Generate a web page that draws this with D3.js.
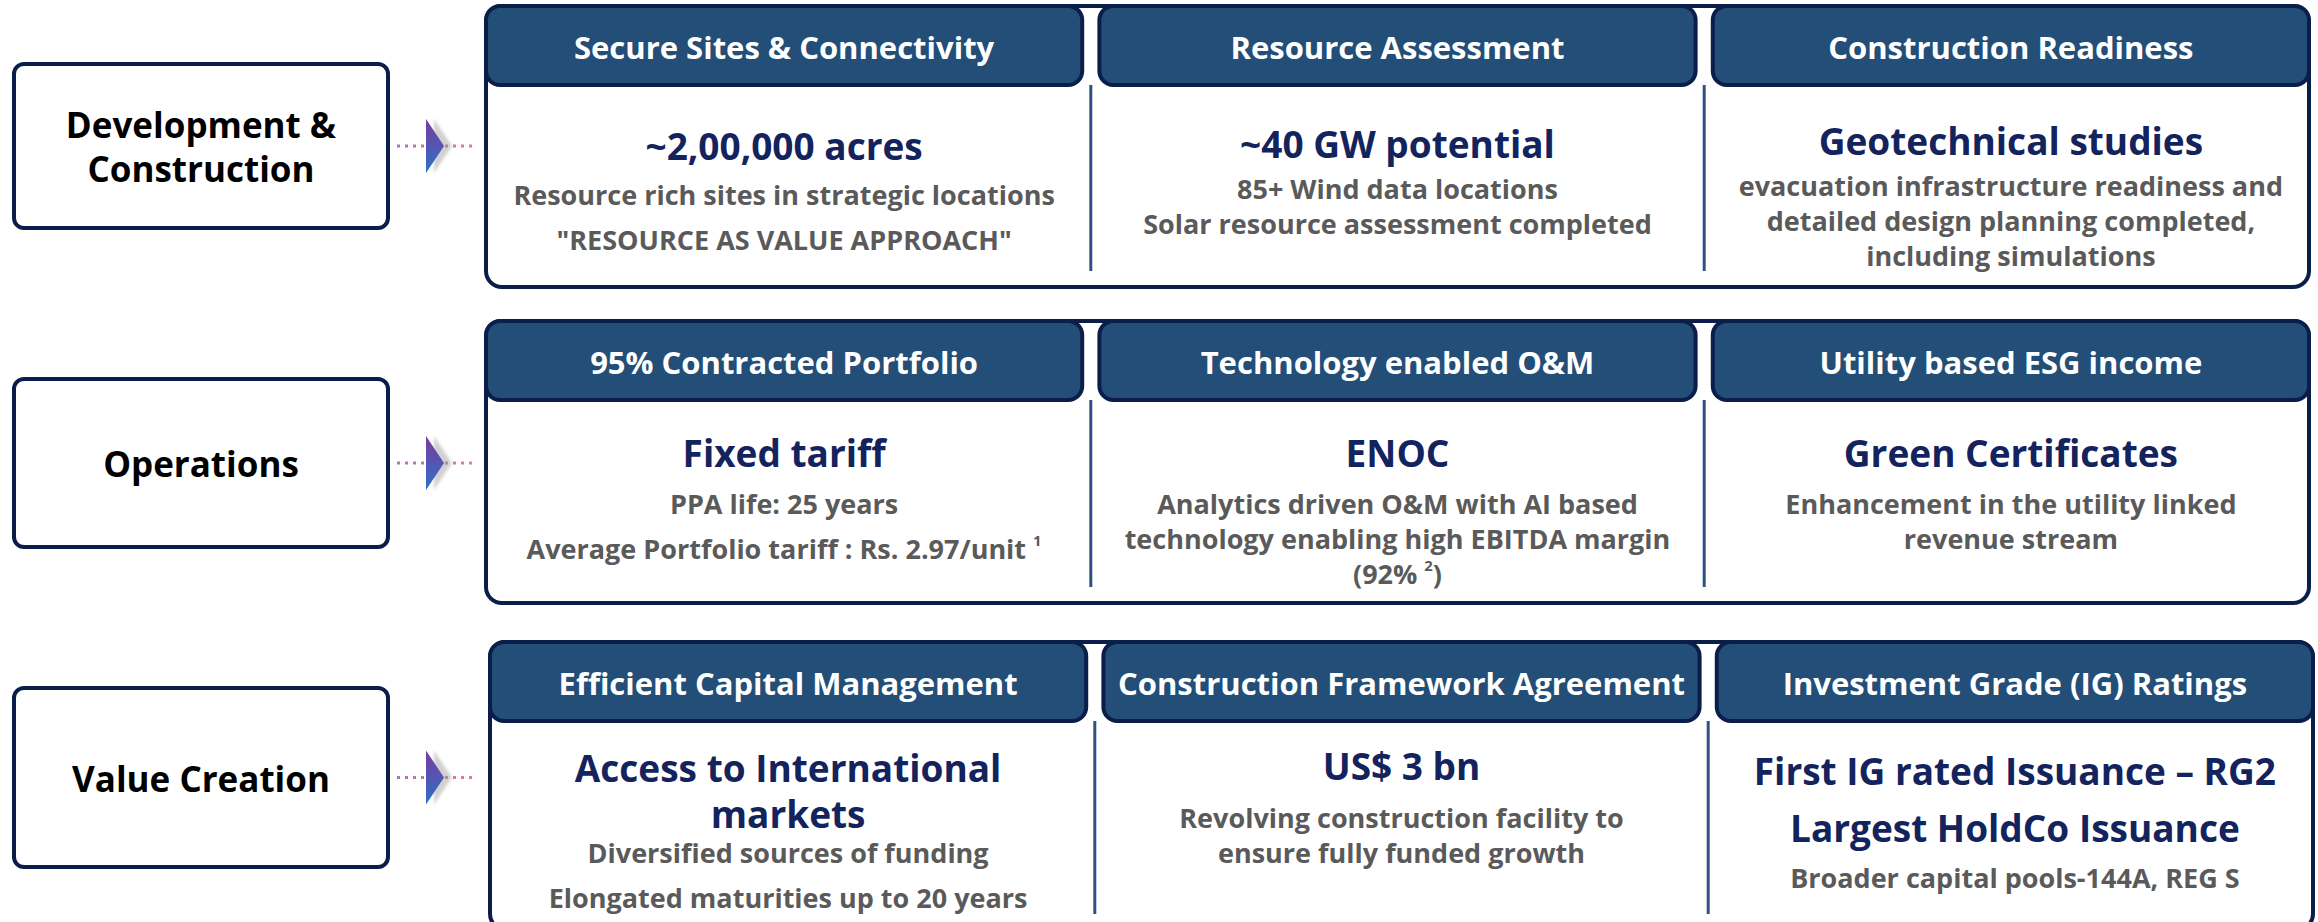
<!DOCTYPE html>
<html>
<head>
<meta charset="utf-8">
<script src="https://cdn.jsdelivr.net/npm/d3@7"></script>
<style>
  body { margin: 0; background: #fff; }
  text { font-family: 'Open Sans', Lato, sans-serif; font-weight: 700; }
</style>
</head>
<body>
<svg id="chart"></svg>
<script>
// ---- content ----
const rowLabels = [['Development &', 'Construction'], ['Operations'], ['Value Creation']];

const headers = [
  ['Secure Sites & Connectivity', 'Resource Assessment', 'Construction Readiness'],
  ['95% Contracted Portfolio', 'Technology enabled O&M', 'Utility based ESG income'],
  ['Efficient Capital Management', 'Construction Framework Agreement', 'Investment Grade (IG) Ratings']
];

// each cell: list of paragraphs, each paragraph a list of lines
const titles = [
  [[['~2,00,000 acres']], [['~40 GW potential']], [['Geotechnical studies']]],
  [[['Fixed tariff']], [['ENOC']], [['Green Certificates']]],
  [[['Access to International', 'markets']], [['US$ 3 bn']], [['First IG rated Issuance – RG2'], ['Largest HoldCo Issuance']]]
];

// ^n^ marks a superscript
const details = [
  [
    [['Resource rich sites in strategic locations'], ['"RESOURCE AS VALUE APPROACH"']],
    [['85+ Wind data locations', 'Solar resource assessment completed']],
    [['evacuation infrastructure readiness and', 'detailed design planning completed,', 'including simulations']]
  ],
  [
    [['PPA life: 25 years'], ['Average Portfolio tariff : Rs. 2.97/unit ^1^']],
    [['Analytics driven O&M with AI based', 'technology enabling high EBITDA margin', '(92% ^2^)']],
    [['Enhancement in the utility linked', 'revenue stream']]
  ],
  [
    [['Diversified sources of funding'], ['Elongated maturities up to 20 years']],
    [['Revolving construction facility to', 'ensure fully funded growth']],
    [['Broader capital pools-144A, REG S']]
  ]
];

// ---- layout ----
const width = 2318, height = 922;
const rowTop = [6, 321, 642];
const rowBottom = [287, 603, 930];
const rowShift = [0, 0, 4];
const boxY = [[64, 228], [379, 547], [688, 867]];
const headH = 79;
const titleY = [[145, 143, 140], [452, 452, 452], [767, 765, 770]];
const detailY = [[194, 188, 185], [503, 503, 503], [852, 817, 877]];

const navy = '#0b1e4a';
const headFill = '#224e77';
const titleColor = '#13235e';
const grey = '#5a5a5a';

const svg = d3.select('#chart')
  .attr('width', width)
  .attr('height', height);

const defs = svg.append('defs');
const triGrad = defs.append('linearGradient')
  .attr('id', 'triGrad')
  .attr('x1', 0).attr('y1', 0).attr('x2', 0).attr('y2', 1);
triGrad.append('stop').attr('offset', '0%').attr('stop-color', '#7d3a9e');
triGrad.append('stop').attr('offset', '100%').attr('stop-color', '#2a72c8');

const dotGrad = defs.append('linearGradient')
  .attr('id', 'dotGrad')
  .attr('gradientUnits', 'userSpaceOnUse')
  .attr('x1', 397).attr('x2', 473).attr('y1', 0).attr('y2', 0);
dotGrad.append('stop').attr('offset', '0%').attr('stop-color', '#b070c8');
dotGrad.append('stop').attr('offset', '100%').attr('stop-color', '#ec7890');

defs.append('filter').attr('id', 'blur')
  .append('feGaussianBlur').attr('stdDeviation', 1.6);

const x = d3.scaleBand()
  .domain([0, 1, 2])
  .range([486, 2309])
  .paddingInner(0.028);

// writes lines of paragraphs centred on cx, starting at y0
function writeBlock(g, paras, cx, y0, lineGap, paraGap, size, color) {
  let y = y0;
  paras.forEach((para, pi) => {
    if (pi > 0) y += paraGap - lineGap;
    para.forEach(line => {
      const t = g.append('text')
        .attr('x', cx)
        .attr('y', y)
        .attr('text-anchor', 'middle')
        .attr('dominant-baseline', 'central')
        .attr('font-size', size)
        .attr('fill', color);
      const parts = line.split('^');
      t.append('tspan').text(parts[0]);
      if (parts.length > 1) {
        t.append('tspan')
          .attr('font-size', size * 0.55)
          .attr('dy', -size * 0.28)
          .text(parts[1]);
        if (parts[2]) {
          t.append('tspan')
            .attr('dy', size * 0.28)
            .text(parts[2]);
        }
      }
      y += lineGap;
    });
  });
}

rowLabels.forEach((label, r) => {
  const row = svg.append('g').attr('class', 'row');
  const [by0, by1] = boxY[r];
  const midY = (by0 + by1) / 2;

  // left label box
  row.append('rect')
    .attr('x', 14).attr('y', by0)
    .attr('width', 374).attr('height', by1 - by0)
    .attr('rx', 10)
    .attr('fill', '#fff')
    .attr('stroke', navy)
    .attr('stroke-width', 4);

  writeBlock(row, [label], 201, midY - (label.length - 1) * 22, 44, 44, 35, '#000');

  // dotted connector and arrow
  row.append('line')
    .attr('x1', 397).attr('x2', 473)
    .attr('y1', midY).attr('y2', midY)
    .attr('stroke', 'url(#dotGrad)')
    .attr('stroke-width', 3)
    .attr('stroke-dasharray', '3 5');

  row.append('path')
    .attr('d', `M${434},${midY - 27} L${452},${midY} L${434},${midY + 27} Z`)
    .attr('fill', '#9a9a9a')
    .attr('opacity', 0.45)
    .attr('filter', 'url(#blur)');

  row.append('path')
    .attr('d', `M${426},${midY - 27} L${444},${midY} L${426},${midY + 27} Z`)
    .attr('fill', 'url(#triGrad)');

  // outer panel
  const sh = rowShift[r];
  row.append('rect')
    .attr('x', x(0) + sh).attr('y', rowTop[r])
    .attr('width', x(2) + x.bandwidth() - x(0)).attr('height', rowBottom[r] - rowTop[r])
    .attr('rx', 16)
    .attr('fill', '#fff')
    .attr('stroke', navy)
    .attr('stroke-width', 4);

  // column dividers
  [1, 2].forEach(c => {
    const dx = x(c) - (x.step() - x.bandwidth()) / 2 + sh;
    row.append('line')
      .attr('x1', dx).attr('x2', dx)
      .attr('y1', rowTop[r] + headH)
      .attr('y2', Math.min(rowBottom[r] - 16, height))
      .attr('stroke', '#2b5484')
      .attr('stroke-width', 3);
  });

  headers[r].forEach((h, c) => {
    const cx = x(c) + x.bandwidth() / 2 + sh;
    row.append('rect')
      .attr('x', x(c) + sh).attr('y', rowTop[r])
      .attr('width', x.bandwidth()).attr('height', headH)
      .attr('rx', 14)
      .attr('fill', headFill)
      .attr('stroke', navy)
      .attr('stroke-width', 4);

    row.append('text')
      .attr('x', cx)
      .attr('y', rowTop[r] + headH / 2 + 1)
      .attr('text-anchor', 'middle')
      .attr('dominant-baseline', 'central')
      .attr('font-size', 31)
      .attr('fill', '#fff')
      .text(h);

    writeBlock(row, titles[r][c], cx, titleY[r][c], 46, 57, 37, titleColor);
    writeBlock(row, details[r][c], cx, detailY[r][c], 35, 45, 27, grey);
  });
});
</script>
</body>
</html>
